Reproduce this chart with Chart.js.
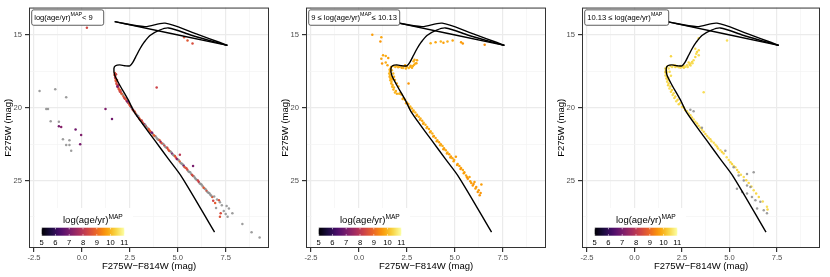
<!DOCTYPE html>
<html>
<head>
<meta charset="utf-8">
<script src="https://cdn.jsdelivr.net/npm/chart.js@4.4.0/dist/chart.umd.min.js"></script>
<style>
  body { margin: 0; background: #fff; width: 830px; height: 277px; overflow: hidden; position: relative; }
  canvas { position: absolute; top: 0; }
</style>
</head>
<body>
<canvas id="c1" width="277" height="277" style="left:0px"></canvas>
<canvas id="c2" width="277" height="277" style="left:277px"></canvas>
<canvas id="c3" width="277" height="277" style="left:553px"></canvas>
<script>
// axis ticks
const xMajor = [-2.5, 0, 2.5, 5, 7.5];
const xMinor = [-1.25, 1.25, 3.75, 6.25, 8.75];
const yMajor = [15, 20, 25];
const yMinor = [17.5, 22.5, 27.5];
const barTicks = [5, 6, 7, 8, 9, 10, 11];

// isochrone branches [colour, magnitude]
const isoRgb = [[6.92,28.55],[5.22,24.78],[4.5,23.5],[3.82,22.28],[2.76,20.36],[2.41,19.45],[1.97,18.44],
  [1.71,17.76],[1.67,17.31],[1.75,17.12],[1.97,17.06],[2.24,17.12],[2.5,17.12],[2.67,16.85],[2.85,16.4],
  [3.03,15.95],[3.25,15.5],[3.55,15.04],[3.99,14.70],[4.52,14.52],[5.75,15.04],[7.59,15.72]];
const isoHb = [[7.59,15.72],[1.71,14.09]];
const isoAgb = [[1.71,14.09],[3.29,14.43],[4.34,14.19],[5.75,14.82],[7.59,15.72]];

// stars [colour, magnitude, log age MAP] (null = no age)
const p1Pts = [
  [-2.21,18.85,null],[-1.39,18.73,null],[-0.82,19.28,null],[-1.86,20.09,null],[-1.77,20.09,null],
  [-1.63,20.93,null],[-1.20,20.97,null],[-1.20,21.27,7.0],[-1.08,21.33,7.2],[-0.33,21.49,6.9],
  [-0.04,21.88,7.1],[-0.99,22.17,null],[-0.65,22.24,null],[-0.82,22.56,null],[-0.65,22.56,null],
  [-0.56,22.96,null],[-0.09,22.51,7.0],[1.23,20.09,7.1],[1.57,20.77,6.9],[0.26,14.50,8.4],
  [3.90,18.62,8.3],[5.33,15.16,8.6],[5.51,15.38,8.7],[5.77,15.59,8.5],[5.11,23.24,8.0],[5.80,24.00,7.0],
  [1.72,17.62,8.7],[1.74,17.82,8.5],[1.77,18.02,8.8],[1.80,18.22,8.4],[1.84,18.42,8.6],[1.89,18.60,8.2],
  [1.95,18.76,8.7],[2.02,18.92,7.5],[2.09,19.06,8.5],[2.16,19.20,8.8],[2.24,19.36,6.8],[2.32,19.50,8.4],
  [2.40,19.66,null],[2.48,19.80,8.6],[2.56,19.96,7.0],[2.64,20.10,8.3],[2.72,20.24,null],[2.80,20.40,8.7],
  [2.89,20.55,6.9],[2.98,20.70,8.5],[3.07,20.86,null],[3.16,21.00,8.8],[3.25,21.14,6.5],[3.34,21.28,8.4],
  [3.43,21.42,null],[3.52,21.55,8.9],[3.61,21.68,7.2],[3.70,21.80,null],[3.80,21.95,8.5],[3.90,22.08,null],
  [4.00,22.20,8.6],[4.10,22.34,6.8],[4.20,22.47,null],[4.30,22.60,8.3],[4.40,22.73,null],[4.50,22.87,8.7],
  [4.60,23.00,null],[4.70,23.14,7.1],[4.80,23.28,null],[4.90,23.42,8.5],[5.00,23.56,null],[5.10,23.70,8.8],
  [5.20,23.84,null],[5.30,23.98,6.7],[5.40,24.12,null],[5.50,24.27,8.4],[5.60,24.41,null],[5.70,24.55,null],
  [5.80,24.69,8.6],[5.90,24.83,null],[6.00,24.97,null],[6.10,25.11,8.2],[6.20,25.25,null],[6.30,25.40,null],
  [6.40,25.55,null],[6.50,25.70,8.5],[6.60,25.84,null],[6.70,25.98,null],[6.80,26.13,8.7],
  [1.78,17.70,8.3],[1.83,18.10,8.6],[1.90,18.45,7.8],[2.00,18.80,8.6],[2.12,19.10,null],[2.28,19.40,8.7],
  [2.44,19.70,8.4],[2.60,19.98,null],[2.76,20.28,8.6],[2.94,20.58,null],[3.12,20.88,8.2],[3.30,21.18,null],
  [3.48,21.46,8.6],[3.66,21.72,6.9],[3.85,21.98,null],[4.05,22.24,8.7],[4.25,22.50,null],[4.45,22.76,8.4],
  [4.65,23.04,null],[4.85,23.32,8.6],[5.05,23.60,null],[5.25,23.88,null],[5.45,24.16,8.5],[5.65,24.44,null],
  [5.85,24.72,null],[6.05,25.00,8.3],[6.25,25.30,null],[6.45,25.60,null],[6.65,25.88,null],
  [1.70,17.75,8.6],[1.73,17.95,8.2],[1.76,18.15,8.7],[1.80,18.35,8.5],[1.85,18.55,7.0],[1.92,18.72,8.6],
  [1.98,18.88,8.4],[2.06,19.02,8.8],[2.20,19.30,8.5],[2.36,19.58,7.2],[2.52,19.88,8.6],[2.68,20.18,8.4],
  [2.85,20.48,null],[3.02,20.80,8.7],[3.20,21.08,8.3],[3.38,21.36,null],[3.56,21.62,8.6],[3.75,21.90,8.8],
  [3.95,22.16,null],[4.15,22.42,8.5],[4.35,22.70,null],[4.55,22.96,8.6],[4.75,23.24,null],[4.95,23.52,7.3],
  [5.15,23.80,null],[5.35,24.08,8.6],[5.55,24.36,null],[5.75,24.62,8.4],[5.95,24.92,null],[6.15,25.20,null],
  [6.35,25.50,8.7],[6.55,25.80,null],[6.75,26.05,null],
  [6.90,26.10,null],[7.05,26.30,null],[7.15,26.36,8.6],[7.20,26.50,null],[7.30,26.70,null],[7.00,26.90,null],
  [6.85,26.40,8.3],[6.95,26.55,8.8],[7.40,27.10,null],[7.50,27.30,null],[7.20,27.50,8.6],[7.60,27.50,null],
  [7.24,27.26,8.5],[7.67,26.92,null],[7.85,27.26,null],[7.55,26.75,null],
  [8.37,27.99,null],[8.85,28.55,null],[9.27,28.91,null]
];
const p2Pts = [
  [0.70,14.98,9.7],[1.17,15.16,9.8],[1.12,15.45,9.6],[1.26,16.40,9.8],[1.40,16.45,9.9],[1.53,16.58,9.7],
  [1.17,16.63,9.8],[1.21,16.97,9.6],[1.40,16.90,9.9],[1.49,17.08,9.8],
  [3.74,15.57,9.9],[4.00,15.50,9.8],[4.27,15.45,10.0],[4.41,15.54,9.7],[4.62,15.45,9.9],[4.89,15.38,9.8],
  [5.33,15.50,9.7],[5.42,15.59,9.6],[6.56,15.68,9.5],
  [2.85,16.81,9.9],[2.94,16.97,10.0],[3.03,16.74,9.8],[2.82,17.13,9.9],[2.68,17.19,10.0],[2.50,17.19,9.9],
  [2.32,17.19,10.0],[2.15,17.15,9.9],[1.97,17.13,10.0],[1.79,17.13,10.1],[2.41,17.08,9.8],[2.77,17.26,9.9],
  [2.59,18.33,9.6],[2.05,17.22,9.9],[2.60,17.28,10.0],[2.23,17.25,9.8],
  [1.90,17.20,10.0],[2.10,17.18,9.9],[2.30,17.28,10.0],[2.45,17.30,9.9],[2.70,17.12,9.8],[2.88,17.05,9.9],
  [3.00,16.95,9.8],[2.90,16.70,9.9],
  [1.65,17.31,10.0],[1.62,17.53,9.9],[1.62,17.76,10.0],[1.65,17.99,9.9],[1.70,18.21,10.0],[1.76,18.44,9.9],
  [1.83,18.62,10.0],[1.93,18.85,9.9],[1.72,17.42,10.1],[1.79,17.65,10.0],[1.83,17.87,9.9],[1.88,18.10,10.0],
  [1.97,18.33,9.8],[2.06,18.55,9.9],[1.68,17.20,9.9],[1.70,17.90,10.1],[1.75,18.05,9.8],
  [1.60,17.40,9.9],[1.58,17.65,10.0],[1.60,17.88,9.9],[1.64,18.12,10.0],[1.69,18.34,9.9],[1.74,18.56,10.0],
  [1.80,18.75,9.9],[1.88,18.95,10.0],[1.98,19.05,9.9],
  [2.15,19.00,9.9],[2.32,19.34,10.0],[2.50,19.64,9.9],[2.68,19.91,10.0],[2.85,20.20,9.9],[3.03,20.48,9.8],
  [3.21,20.75,9.9],[3.38,21.04,10.0],[3.56,21.33,9.8],[3.74,21.61,9.9],[3.91,21.95,9.8],[4.09,22.24,9.9],
  [4.27,22.51,9.7],[4.44,22.78,9.8],[4.62,23.08,9.9],[4.80,23.35,9.7],[4.97,23.60,9.8],[5.15,23.87,9.7],
  [5.33,24.14,9.8],[5.50,24.43,9.7],[5.59,24.66,9.8],[5.68,24.89,9.6],[5.86,25.18,9.7],[5.77,24.77,9.8],
  [5.94,25.34,9.6],[6.03,25.11,9.7],[6.12,25.45,9.6],[6.25,25.68,9.7],[6.35,25.86,9.6],[6.39,25.27,9.7],
  [6.30,26.02,9.6],[5.06,23.37,9.7],
  [2.22,19.10,9.8],[2.40,19.45,9.9],[2.58,19.75,9.8],[2.76,20.05,9.9],[2.94,20.33,10.0],[3.12,20.62,9.9],
  [3.30,20.90,9.8],[3.47,21.18,9.9],[3.65,21.47,9.8],[3.83,21.78,9.9],[4.00,22.08,9.8],[4.18,22.38,9.7],
  [4.36,22.64,9.9],[4.53,22.93,9.8],[4.71,23.20,9.7],[4.88,23.47,9.8],[5.24,24.00,9.7],[5.42,24.28,9.8],
  [2.10,19.05,10.0],[2.28,19.40,9.9],[2.46,19.70,9.8],[2.64,19.98,10.0],[2.82,20.27,9.9],[3.00,20.55,9.8],
  [3.18,20.83,9.9],[3.35,21.10,9.8],[3.53,21.40,9.9],[3.71,21.68,9.8],[3.88,21.98,9.7],[4.06,22.30,9.8],
  [4.24,22.58,9.9],[4.41,22.85,9.7],[4.59,23.14,9.8],[4.77,23.42,9.7],[4.94,23.68,9.8],[5.12,23.94,9.7],
  [5.30,24.22,9.6],[5.47,24.50,9.7],[5.64,24.78,9.6],[5.81,25.05,9.7],[5.98,25.25,9.6],[6.08,25.55,9.7],
  [6.20,25.80,9.6]
];
const p3Pts = [
  [3.38,15.23,10.4],[4.87,15.38,10.5],[1.92,16.47,10.4],[3.64,18.94,10.5],
  [3.20,15.95,10.5],[3.29,16.18,10.4],[3.38,16.40,10.5],[3.20,16.52,10.4],[3.11,16.74,10.5],[3.03,16.86,10.4],
  [2.94,16.97,10.5],[3.38,16.06,10.4],[3.25,16.30,10.5],
  [2.76,17.08,10.5],[2.59,17.13,10.4],[2.41,17.13,10.5],[2.24,17.15,10.4],[2.06,17.08,10.5],[1.89,17.13,10.4],
  [2.68,17.19,10.5],[2.85,16.90,10.4],[2.50,17.20,10.5],[2.15,17.20,10.4],[2.33,17.22,10.5],[2.95,17.10,10.5],
  [1.98,17.20,10.5],[2.15,17.10,10.4],[2.42,17.25,10.5],[2.60,17.25,10.4],[2.80,17.20,10.5],[2.90,17.05,10.4],
  [3.05,16.95,10.5],
  [1.71,17.19,10.5],[1.66,17.42,10.4],[1.66,17.65,10.5],[1.71,17.87,10.4],[1.75,18.10,10.5],[1.80,18.33,10.4],
  [1.89,18.55,10.5],[1.97,18.78,10.4],[2.06,19.00,10.5],[2.15,19.23,10.4],[1.80,17.31,10.5],[1.85,17.53,10.4],
  [1.92,17.81,10.5],[2.27,19.46,10.4],[2.41,19.68,10.5],[2.59,19.98,10.4],[1.70,17.55,10.5],[1.78,17.95,10.4],
  [1.62,17.30,10.5],[1.62,17.55,10.4],[1.63,17.78,10.5],[1.68,18.00,10.4],[1.72,18.22,10.5],[1.77,18.45,10.4],
  [1.84,18.68,10.5],[1.92,18.90,10.4],[2.01,19.12,10.5],[2.10,19.33,10.4],[2.20,19.55,10.5],[2.33,19.76,10.4],
  [2.50,19.95,10.5],[2.66,20.16,10.4],[2.85,20.40,10.5],[3.02,20.68,10.4],[3.20,20.96,10.5],[3.37,21.24,10.4],
  [3.55,21.52,10.5],[3.73,21.80,10.4],[3.90,22.07,10.5],[4.26,22.55,10.5],[4.60,23.05,10.4],[4.85,23.40,10.5],
  [5.05,23.75,10.4],[5.22,24.00,10.5],[5.40,24.28,10.4],[5.60,24.60,10.5],[5.88,24.98,10.4],[6.15,25.42,10.5],
  [6.40,25.90,10.4],[6.75,26.45,10.5],[7.00,27.00,10.4],
  [2.76,20.25,10.5],[2.94,20.52,10.4],[3.11,20.81,10.5],[3.29,21.09,10.4],[3.46,21.38,10.5],[3.64,21.65,10.4],
  [3.82,21.95,10.5],[3.99,22.17,10.4],[4.17,22.40,10.5],[4.34,22.67,10.4],[4.52,22.92,10.5],[4.69,23.14,10.4],
  [4.96,23.60,10.5],[5.13,23.87,10.4],[5.31,24.10,10.5],[5.48,24.43,10.4],[5.75,24.77,10.5],[6.01,25.18,10.4],
  [6.27,25.68,10.5],[6.54,26.13,10.4],[6.97,26.81,10.5],[4.05,22.30,10.5],[4.40,22.80,10.4],
  [2.94,20.14,null],[3.11,20.25,null],[3.55,21.38,null],[4.78,22.96,null],[5.22,24.10,null],[5.48,24.66,null],
  [5.75,25.00,null],[5.92,25.34,null],[6.10,25.45,null],[5.39,25.57,null],[5.66,25.79,null],[5.92,25.90,null],
  [6.18,26.13,null],[6.36,26.36,null],[6.62,26.47,null],[6.45,26.92,null],[6.80,27.04,null],[6.97,27.26,null],
  [6.27,24.43,null],[5.92,24.55,null]
];

const infernoStops = ['#000004','#1b0c41','#4a0c6b','#781c6d','#a52c60','#cf4446','#ed6925','#fb9b06','#f7d13d','#fcffa4'];
function hexRgb(h) { return [1, 3, 5].map(i => parseInt(h.substr(i, 2), 16)); }
function inferno(t) {
  t = Math.min(1, Math.max(0, t));
  const n = infernoStops.length - 1;
  const i = Math.min(n - 1, Math.floor(t * n));
  const f = t * n - i;
  const a = hexRgb(infernoStops[i]), b = hexRgb(infernoStops[i + 1]);
  const c = a.map((v, k) => Math.round(v + (b[k] - v) * f));
  return 'rgb(' + c.join(',') + ')';
}
function ageColor(age) { return age == null ? 'rgba(140,140,140,0.85)' : inferno((age - 5) / 6); }

const FONT = "'Liberation Sans', Arial, sans-serif";

function drawRich(ctx, parts, x, y, size) {
  let cx = x;
  parts.forEach(([txt, sup]) => {
    const s = sup ? size * 0.7 : size;
    ctx.font = s + 'px ' + FONT;
    ctx.fillText(txt, cx, sup ? y - size * 0.4 : y);
    cx += ctx.measureText(txt).width;
  });
}

function decorPlugin(label, boxW) {
  return {
    id: 'decor',
    afterDatasetsDraw(chart) {
      const { ctx, chartArea: a } = chart;
      ctx.save();
      // colour bar legend
      const lx = a.left + 6, ly = a.bottom - 40;
      ctx.fillStyle = '#fff';
      ctx.fillRect(lx, ly, 98, 40);
      ctx.fillStyle = '#000';
      ctx.textBaseline = 'middle';
      drawRich(ctx, [['log(age/yr)', 0], ['MAP', 1]], a.left + 34, a.bottom - 27.5, 9.5);
      const bx0 = a.left + 12.7, bx1 = a.left + 95.3, by = a.bottom - 20.3, bh = 8;
      const g = ctx.createLinearGradient(bx0, 0, bx1, 0);
      for (let i = 0; i <= 20; i++) g.addColorStop(i / 20, inferno(i / 20));
      ctx.fillStyle = g;
      ctx.fillRect(bx0, by, bx1 - bx0, bh);
      ctx.strokeStyle = '#fff';
      ctx.lineWidth = 0.6;
      ctx.font = '7.6px ' + FONT;
      ctx.textAlign = 'center';
      barTicks.forEach(v => {
        const tx = bx0 + (v - 5) / 6 * (bx1 - bx0);
        ctx.beginPath();
        ctx.moveTo(tx, by); ctx.lineTo(tx, by + 1.6);
        ctx.moveTo(tx, by + bh); ctx.lineTo(tx, by + bh - 1.6);
        ctx.stroke();
        ctx.fillStyle = '#000';
        ctx.fillText(String(v), tx, a.bottom - 5);
      });
      // panel label
      ctx.textAlign = 'left';
      const rx = a.left + 2.7, ry = a.top + 2.3, rh = 15.4, r = 2;
      ctx.beginPath();
      ctx.roundRect(rx, ry, boxW, rh, r);
      ctx.fillStyle = '#fff';
      ctx.fill();
      ctx.strokeStyle = '#333';
      ctx.lineWidth = 0.8;
      ctx.stroke();
      ctx.fillStyle = '#000';
      drawRich(ctx, label, rx + 2.5, ry + rh / 2 + 0.5, 7.6);
      // panel border
      ctx.strokeStyle = '#333';
      ctx.lineWidth = 1;
      ctx.strokeRect(a.left + 0.5, a.top + 0.5, a.right - a.left - 1, a.bottom - a.top - 1);
      ctx.restore();
    }
  };
}

function lineSet(pts) {
  return { data: pts.map(([x, y]) => ({ x, y })), showLine: true, borderColor: '#000', borderWidth: 1.4,
    pointRadius: 0, tension: 0.3, fill: false, order: 0 };
}

function makePanel(id, pts, label, boxW, rightPad) {
  new Chart(document.getElementById(id), {
    type: 'scatter',
    data: {
      datasets: [
        lineSet(isoRgb), lineSet(isoHb), lineSet(isoAgb),
        { data: pts.map(([x, y]) => ({ x, y })), pointRadius: 1.25, pointBorderWidth: 0,
          pointBackgroundColor: pts.map(p => ageColor(p[2])), order: 1 }
      ]
    },
    options: {
      responsive: false,
      animation: false,
      devicePixelRatio: 1,
      layout: { padding: { left: 0, right: rightPad, top: 5, bottom: 0 } },
      plugins: { legend: { display: false }, tooltip: { enabled: false } },
      scales: {
        x: {
          type: 'linear', min: -2.76, max: 9.76,
          afterBuildTicks: s => { s.ticks = xMajor.concat(xMinor).sort((a, b) => a - b).map(v => ({ value: v })); },
          afterFit: s => { s.height = 29; },
          ticks: { autoSkip: false, maxRotation: 0, padding: 1, color: '#4D4D4D', font: { family: FONT, size: 7.6 },
            callback: v => xMajor.includes(v) ? v.toFixed(1) : '' },
          grid: { color: c => xMajor.includes(c.tick.value) ? '#EBEBEB' : '#F3F3F3',
            lineWidth: c => xMajor.includes(c.tick.value) ? 1.2 : 0.7,
            tickColor: c => xMajor.includes(c.tick.value) ? '#333' : 'rgba(0,0,0,0)', tickLength: 4 },
          border: { display: false },
          title: { display: true, text: 'F275W\u2212F814W (mag)', color: '#000', font: { family: FONT, size: 9.5 },
            padding: { top: 0, bottom: 4.6 } }
        },
        y: {
          type: 'linear', reverse: true, min: 13.12, max: 29.64,
          afterBuildTicks: s => { s.ticks = yMajor.concat(yMinor).sort((a, b) => a - b).map(v => ({ value: v })); },
          afterFit: s => { s.width = 29; },
          ticks: { autoSkip: false, padding: 3, color: '#4D4D4D', font: { family: FONT, size: 7.6 },
            callback: v => yMajor.includes(v) ? String(v) : '' },
          grid: { color: c => yMajor.includes(c.tick.value) ? '#EBEBEB' : '#F3F3F3',
            lineWidth: c => yMajor.includes(c.tick.value) ? 1.2 : 0.7,
            tickColor: c => yMajor.includes(c.tick.value) ? '#333' : 'rgba(0,0,0,0)', tickLength: 4 },
          border: { display: false },
          title: { display: true, text: 'F275W (mag)', color: '#000', font: { family: FONT, size: 9.5 },
            padding: { top: 2.6, bottom: 0 } }
        }
      }
    },
    plugins: [decorPlugin(label, boxW)]
  });
}

makePanel('c1', p1Pts, [['log(age/yr)', 0], ['MAP', 1], ['< 9', 0]], 72, 8);
makePanel('c2', p2Pts, [['9 \u2264 log(age/yr)', 0], ['MAP', 1], ['\u2264 10.13', 0]], 91, 8);
makePanel('c3', p3Pts, [['10.13 \u2264 log(age/yr)', 0], ['MAP', 1]], 84, 10);
</script>
</body>
</html>
